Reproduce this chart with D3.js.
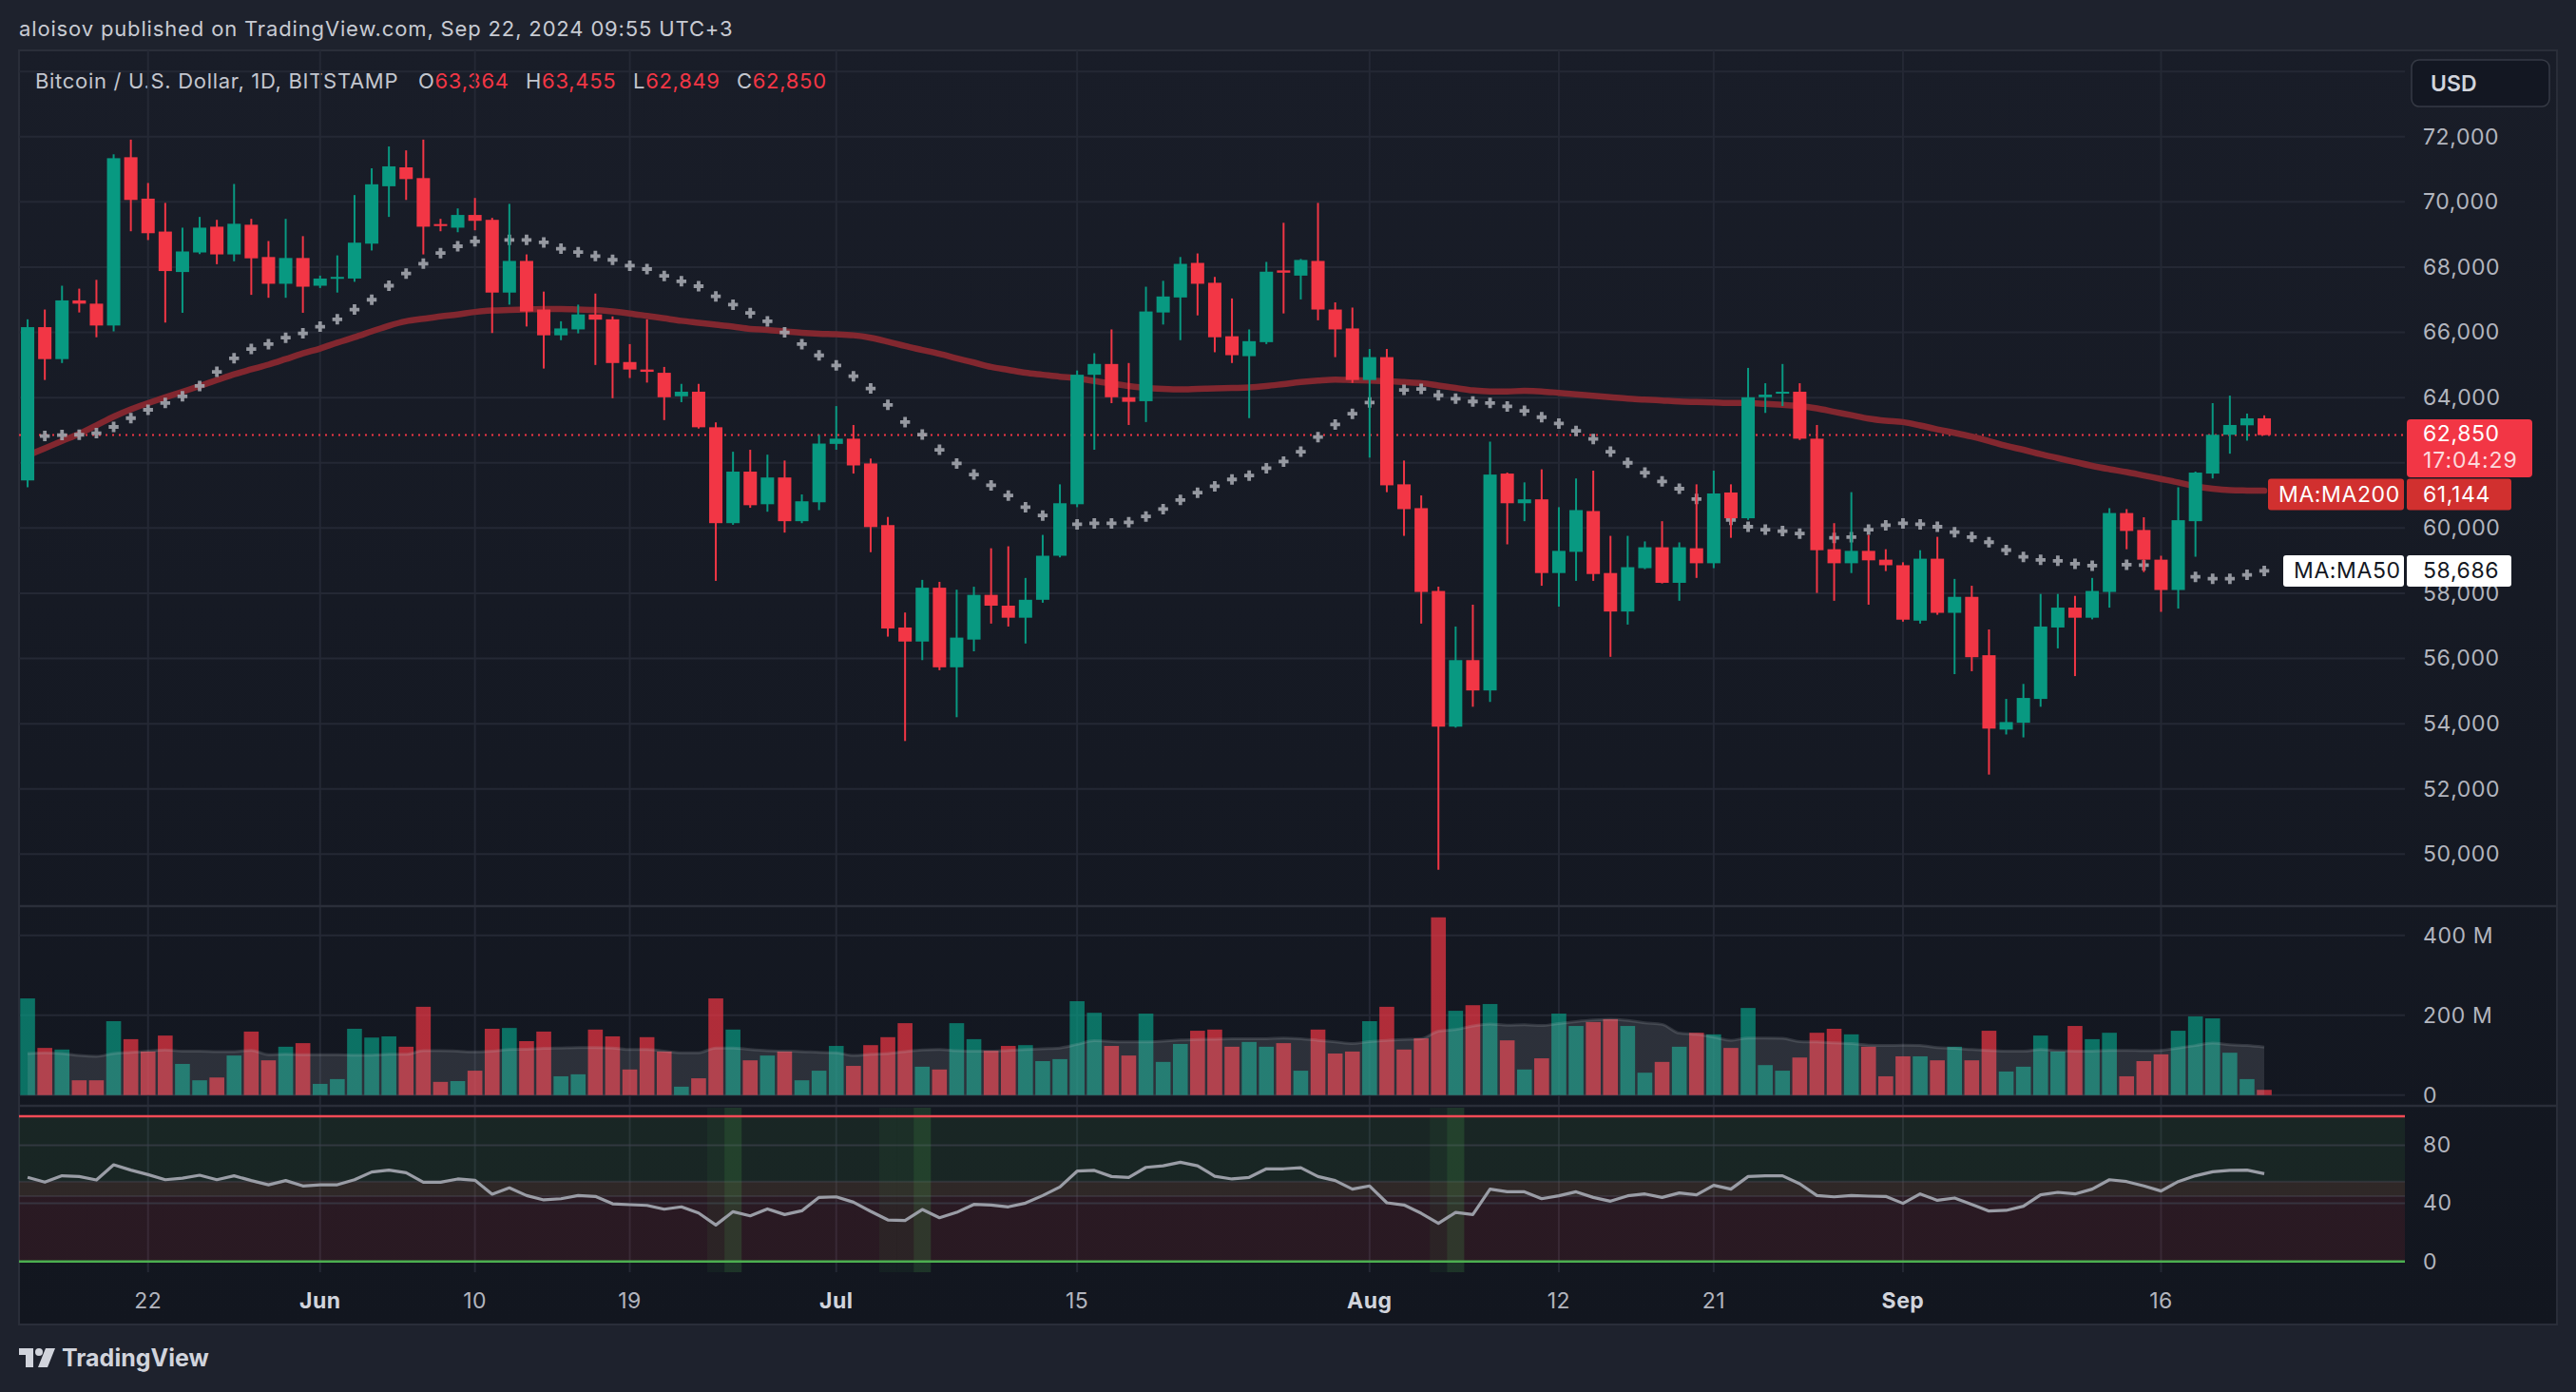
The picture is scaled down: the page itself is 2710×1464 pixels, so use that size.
<!DOCTYPE html>
<html>
<head>
<meta charset="utf-8">
<script src="https://cdn.jsdelivr.net/npm/d3@7"></script>
<style>
  html, body { margin: 0; padding: 0; background: #1e222d; overflow: hidden; }
  svg { display: block; font-family: Inter, "Noto Sans", sans-serif; }
</style>
</head>
<body>
<svg id="chart" width="2710" height="1464"></svg>
<script>
// data: BTC/USD 1D, BITSTAMP, May 15 - Sep 22 2024
const firstDay = "2024-05-15";

const opens = [61460,66160,65180,66980,66880,66210,71370,70100,69090,67850,68450,69240,68390,69300,68310,67490,68280,67430,67660,67650,
  68720,70480,71060,70730,69320,69210,69600,69450,67220,68190,66700,65910,66090,66550,66400,65090,64860,64760,64040,64180,
  63090,60150,61730,60730,61550,60210,60790,62580,62740,61980,60090,56950,56520,58170,55730,56580,57950,57620,57250,57800,
  59150,60730,64700,65030,64010,63890,66610,67070,68130,67520,65880,65270,65700,67900,67740,68190,66700,66120,64540,65240,
  61340,60610,58070,53910,55950,55020,61670,60760,60880,58620,59270,60520,58620,57440,58770,59410,58320,59380,58920,61090,
  60300,64010,64120,64180,62740,59350,58920,59300,59030,58860,57160,59060,57400,57890,56100,53820,54030,54760,56950,57560,
  57250,58040,60460,59940,59030,58100,60210,61670,62860,63150,63364];
const highs = [66400,66700,67430,67340,67610,71460,71910,70580,69970,69210,69540,69450,70550,69480,68800,69480,68950,67740,68360,70210,
  71030,71700,71580,71910,69480,69800,70120,69510,69940,68390,67250,66340,66850,67190,66490,65640,66400,64940,64420,64420,
  63240,62340,62400,62250,62070,61030,62860,63740,63160,62130,60340,57410,58410,58350,58110,58200,59380,59440,58470,59790,
  61340,64830,65360,66090,65060,67400,67580,68310,68420,67700,67040,66090,68160,69360,68250,69970,66920,66760,65490,65490,
  62070,61000,58200,56980,57650,62650,61700,61400,61800,60640,61520,61760,59760,59760,59590,60210,59560,61340,61760,61340,
  64910,64440,65030,64440,63160,60150,61100,59790,59350,58950,59320,59730,58440,58230,56890,54760,55220,57980,57980,57920,
  58470,60610,60580,60330,59150,61250,61730,63830,64060,63510,63455];
const lows = [61250,64540,65060,66610,65850,66030,69100,68830,66300,66600,68400,68090,68180,67150,67060,67060,66600,67360,67220,67550,
  68510,69540,70060,68390,69100,69070,69130,65980,66850,66180,64890,65760,65970,65000,63980,64600,64460,63310,63860,63050,
  58380,60100,60620,60500,59860,60150,60550,62400,61670,59260,56670,53470,55950,55640,54200,56220,57070,56980,56460,57710,
  59100,60640,62400,63830,63160,63250,66240,65760,66520,65390,65060,63370,65640,66580,67010,66370,65240,64450,62160,61100,
  59760,57070,49520,53880,54520,54670,59500,60210,58230,57590,58380,58380,56050,57040,58740,58300,57770,58470,58770,59700,
  60250,63530,63740,62700,58010,57770,58620,57650,58680,57130,57070,57340,55520,55610,52440,53670,53580,54520,56310,55460,
  57200,57560,59350,58650,57430,57530,59120,61520,62280,62680,62849];
const closes = [66160,65180,66980,66880,66210,71340,70060,69040,67880,68480,69210,68390,69330,68270,67490,68280,67400,67650,67700,68750,
  70540,71090,70700,69240,69260,69600,69420,67220,68190,66640,65910,66120,66550,66390,65060,64860,64790,64010,64180,63090,
  60150,61730,60700,61550,60210,60820,62590,62740,61920,60030,56920,56520,58170,55730,56640,57950,57620,57250,57800,59150,
  60760,64700,65030,64010,63870,66640,67100,68100,67490,65850,65300,65730,67860,67830,68220,66700,66090,64540,65240,61310,
  60580,58040,53910,55950,55020,61640,60760,60880,58620,59300,60550,58590,57440,58800,59410,58320,59410,58920,61060,60300,
  64010,64090,64180,62740,59320,58920,59300,59010,58860,57190,59060,57400,57890,56040,53850,54050,54790,56980,57560,57250,
  58070,60460,59910,59030,58100,60240,61700,62860,63160,63364,62850];

const ma200 = [62220,62445,62670,62890,63150,63415,63640,63830,64010,64180,64355,64535,64715,64865,65010,65180,65355,65505,65685,65850,
  66030,66205,66340,66415,66490,66550,66625,66670,66685,66700,66715,66715,66700,66685,66640,66580,66505,66430,66355,66295,
  66235,66175,66105,66075,66030,65985,65955,65940,65910,65835,65715,65580,65460,65340,65205,65075,64940,64850,64760,64700,
  64640,64595,64505,64430,64355,64295,64265,64250,64265,64280,64295,64310,64355,64415,64475,64520,64550,64535,64520,64505,
  64475,64445,64370,64295,64220,64190,64190,64205,64190,64145,64100,64055,64010,63965,63940,63910,63880,63865,63850,63835,
  63835,63805,63775,63745,63670,63565,63460,63355,63290,63250,63145,63025,62920,62805,62670,62520,62400,62265,62145,62025,
  61905,61805,61715,61610,61505,61400,61280,61205,61160,61150,61144];
const ma50 = [62800,62820,62850,62860,62910,63100,63370,63625,63835,64040,64355,64790,65205,65490,65640,65835,65970,66175,66400,66700,
  67000,67430,67805,68105,68430,68640,68790,68820,68835,68835,68760,68565,68460,68340,68225,68045,67940,67730,67565,67415,
  67105,66850,66595,66340,66000,65640,65295,64985,64655,64280,63775,63250,62865,62400,61980,61640,61310,60995,60640,60385,
  60250,60115,60145,60145,60175,60355,60580,60860,61085,61280,61490,61610,61835,62040,62340,62790,63175,63505,63850,64115,
  64235,64265,64070,63965,63880,63835,63730,63595,63400,63205,62980,62730,62340,62000,61700,61430,61205,60890,60580,60250,
  60040,59950,59905,59830,59770,59700,59720,59950,60085,60145,60115,60040,59875,59725,59565,59325,59115,59025,58995,58905,
  58845,58860,58875,58860,58755,58620,58505,58445,58445,58565,58686];

// volume in millions
const volumes = [242,118,114,37,37,185,140,109,149,78,37,44,99,159,87,121,130,28,40,166,
  144,147,121,221,33,35,61,166,168,135,159,47,52,164,147,64,145,109,21,42,
  242,164,87,99,109,37,61,123,73,125,145,180,71,64,180,140,111,123,125,85,
  90,235,206,123,99,204,83,128,161,164,121,133,121,130,61,164,104,109,185,221,
  114,142,445,211,225,228,137,64,92,204,173,183,190,173,56,83,121,156,152,118,
  218,75,61,94,156,166,152,121,47,97,97,87,121,87,161,59,71,149,109,173,
  140,156,47,85,102,161,197,192,106,40,13];
const volumeMa = [104,106,104,99,97,104,107,110,113,110,110,109,109,112,101,102,101,101,101,100,
  100,102,102,111,111,110,108,110,114,115,117,118,119,119,118,114,114,110,106,106,
  118,118,114,111,110,109,107,106,99,102,104,109,113,114,111,110,110,112,114,116,
  118,127,136,134,133,133,135,138,139,140,141,141,141,143,141,137,133,129,134,137,
  139,141,160,164,173,178,175,176,174,179,184,188,190,187,181,177,155,152,145,137,
  143,143,142,134,133,131,129,125,124,125,124,119,117,114,112,110,110,114,111,110,
  110,112,112,111,112,118,124,130,126,124,120];

const rsi = [57.9,54.6,59.0,58.5,56.1,66.6,62.9,59.8,56.3,57.4,59.4,56.3,59.0,55.7,52.8,55.7,52.0,52.8,52.8,56.3,
  61.6,62.9,61.1,54.6,54.6,56.8,55.9,46.3,50.7,45.4,42.4,43.2,45.4,44.8,39.7,39.1,38.6,36.0,37.6,33.4,
  25.1,34.3,31.4,36.2,32.3,34.9,44.1,44.5,40.8,34.5,28.6,28.2,35.8,30.1,33.8,39.3,38.9,37.6,40.2,45.4,
  51.3,62.2,62.7,58.5,57.9,64.8,65.9,68.3,65.9,58.7,56.8,57.9,63.8,63.8,64.6,58.5,55.7,49.8,52.0,40.4,
  38.9,33.2,26.2,33.8,32.3,49.8,48.0,48.0,43.2,45.2,48.0,44.1,41.5,45.2,46.5,44.1,47.2,45.9,52.4,49.8,
  58.5,59.0,59.0,53.5,45.4,44.5,45.4,45.0,44.8,40.0,46.5,42.1,43.7,39.3,34.7,35.2,38.0,45.9,47.6,46.5,
  49.8,56.3,55.0,52.0,48.5,55.0,59.0,61.8,62.7,62.9,60.5];
const rsiDimDays = [40, 50, 51, 82];
const rsiSignalDays = [41, 52, 83];
const rsiUpperZone = [45, 100];
const rsiLowerZone = [0, 55];

const priceTicks = [50000,52000,54000,56000,58000,60000,62000,64000,66000,68000,70000,72000];
const priceGrid = [50000,52000,54000,56000,58000,60000,62000,64000,66000,68000,70000,72000,74000];
const volumeTicks = [0, 200, 400];
const rsiTicks = [0, 40, 80];
const timeTicks = ["2024-05-22","2024-06-01","2024-06-10","2024-06-19","2024-07-01","2024-07-15",
  "2024-08-01","2024-08-12","2024-08-21","2024-09-01","2024-09-16"];

const lastPrice = 62850, countdown = "17:04:29";

// layout
const W = 2710, H = 1464;
const left = 20, plotRight = 2530, frameRight = 2690;
const frameTop = 53, frameBottom = 1393;
const priceTop = 53, priceBottom = 953;
const volTop = 953, volBottom = 1163;
const rsiTop = 1163, rsiBottom = 1338;
const step = 18.1;

const green = "#089981", red = "#f23645";
const textCol = "#b2b5be", gridCol = "#242834";

const parse = d3.timeParse("%Y-%m-%d");
const start = parse(firstDay);
const days = d3.timeDay.range(start, d3.timeDay.offset(start, closes.length));
const bars = days.map((d, i) => ({
  d, i, o: opens[i], h: highs[i], l: lows[i], c: closes[i],
  ma200: ma200[i], ma50: ma50[i], vol: volumes[i], volMa: volumeMa[i], rsi: rsi[i]
}));

// scales
const x = d3.scaleBand().domain(days).range([left, left + step * days.length]).paddingInner(0).paddingOuter(0);
const cx = d => x(d) + x.bandwidth() / 2;
const yP = d3.scaleLinear().domain([50000, 72000]).range([898.35, 143.75]);
const yV = d3.scaleLinear().domain([0, 400]).range([1151.7, 983.7]);
const yR = d3.scaleLinear().domain([0, 100]).range([1326.7, 1174]);

const svg = d3.select("#chart");
const defs = svg.append("defs");
const bg = defs.append("linearGradient").attr("id", "bg").attr("x1", 0).attr("y1", 0).attr("x2", 0).attr("y2", 1);
bg.append("stop").attr("offset", "0%").attr("stop-color", "#191d28");
bg.append("stop").attr("offset", "100%").attr("stop-color", "#12161f");
defs.append("clipPath").attr("id", "clipPrice").append("rect")
  .attr("x", left).attr("y", priceTop).attr("width", plotRight - left).attr("height", priceBottom - priceTop);

// background + frame
svg.append("rect").attr("width", W).attr("height", H).attr("fill", "#1e222d");
svg.append("rect").attr("x", left).attr("y", frameTop).attr("width", frameRight - left).attr("height", frameBottom - frameTop)
  .attr("fill", "url(#bg)").attr("stroke", "#2a2e39").attr("stroke-width", 2);

// header texts
svg.append("text").attr("x", 20).attr("y", 38).attr("font-size", 22).attr("letter-spacing", 0.85).attr("fill", "#c8cbd3")
  .text("aloisov published on TradingView.com, Sep 22, 2024 09:55 UTC+3");

const legend = svg.append("g").attr("font-size", 22).attr("letter-spacing", 0.7);
legend.append("text").attr("x", 37).attr("y", 93).attr("fill", "#c3c6ce").text("Bitcoin / U.S. Dollar, 1D, BITSTAMP");
const last = bars[bars.length - 1];
const fmt = d3.format(",");
[["O", last.o, 440], ["H", last.h, 553], ["L", last.l, 666], ["C", last.c, 775]].forEach(([k, v, px]) => {
  const t = legend.append("text").attr("x", px).attr("y", 93).attr("fill", "#c3c6ce").text(k);
  t.append("tspan").attr("fill", red).text(fmt(v));
});

// grid
const grid = svg.append("g").attr("stroke", gridCol).attr("stroke-width", 2);
grid.selectAll(".hp").data(priceGrid).join("line")
  .attr("x1", left).attr("x2", plotRight).attr("y1", d => yP(d)).attr("y2", d => yP(d));
grid.selectAll(".hv").data(volumeTicks).join("line")
  .attr("x1", left).attr("x2", plotRight).attr("y1", d => yV(d)).attr("y2", d => yV(d));
const tickDates = timeTicks.map(parse);
grid.selectAll(".vt").data(tickDates).join("line")
  .attr("x1", d => cx(d)).attr("x2", d => cx(d)).attr("y1", frameTop).attr("y2", rsiBottom);

// RSI pane background zones
const rsiG = svg.append("g");
rsiG.append("rect").attr("x", left).attr("width", plotRight - left)
  .attr("y", yR(rsiUpperZone[1])).attr("height", yR(rsiUpperZone[0]) - yR(rsiUpperZone[1]))
  .attr("fill", "rgba(76,175,80,0.1)");
rsiG.append("rect").attr("x", left).attr("width", plotRight - left)
  .attr("y", yR(rsiLowerZone[1])).attr("height", yR(rsiLowerZone[0]) - yR(rsiLowerZone[1]))
  .attr("fill", "rgba(242,54,69,0.1)");
rsiG.selectAll(".rg").data([40, 80, 45, 55]).join("line")
  .attr("x1", left).attr("x2", plotRight).attr("y1", d => yR(d)).attr("y2", d => yR(d))
  .attr("stroke", (d) => (d === 40 || d === 80) ? "rgba(60,64,76,0.7)" : "rgba(80,84,96,0.35)").attr("stroke-width", 2);
rsiG.selectAll(".dim").data(rsiDimDays).join("rect")
  .attr("x", i => x(days[i])).attr("width", x.bandwidth())
  .attr("y", rsiTop + 2).attr("height", rsiBottom - rsiTop - 2).attr("fill", "rgba(76,175,80,0.07)");
rsiG.selectAll(".sig").data(rsiSignalDays).join("rect")
  .attr("x", i => x(days[i])).attr("width", x.bandwidth())
  .attr("y", rsiTop + 2).attr("height", rsiBottom - rsiTop - 2).attr("fill", "rgba(76,175,80,0.2)");
rsiG.append("line").attr("x1", left).attr("x2", plotRight).attr("y1", yR(100)).attr("y2", yR(100))
  .attr("stroke", "#f44a56").attr("stroke-width", 2.5);
rsiG.append("line").attr("x1", left).attr("x2", plotRight).attr("y1", yR(0)).attr("y2", yR(0))
  .attr("stroke", "#4caf50").attr("stroke-width", 2.5);
rsiG.append("path").datum(bars)
  .attr("d", d3.line().x(b => cx(b.d)).y(b => yR(b.rsi)))
  .attr("fill", "none").attr("stroke", "#9a9da6").attr("stroke-width", 3.2).attr("stroke-linejoin", "round");

// volume pane
const volG = svg.append("g");
volG.selectAll("rect").data(bars).join("rect")
  .attr("x", b => cx(b.d) - 7.8).attr("width", 15.6)
  .attr("y", b => yV(b.vol)).attr("height", b => yV(0) - yV(b.vol))
  .attr("fill", b => b.c >= b.o ? green : red).attr("fill-opacity", 0.7);
volG.append("path").datum(bars)
  .attr("d", d3.area().x(b => cx(b.d)).y0(yV(0)).y1(b => yV(b.volMa)).curve(d3.curveMonotoneX))
  .attr("fill", "rgba(190,193,202,0.15)");
volG.append("path").datum(bars)
  .attr("d", d3.line().x(b => cx(b.d)).y(b => yV(b.volMa)).curve(d3.curveMonotoneX))
  .attr("fill", "none").attr("stroke", "rgba(190,193,202,0.18)").attr("stroke-width", 3);

// pane separators
svg.selectAll(".sep").data([volTop, volBottom]).join("line")
  .attr("x1", left).attr("x2", frameRight).attr("y1", d => d).attr("y2", d => d)
  .attr("stroke", "#2a2e39").attr("stroke-width", 2.5);

// price pane
const pg = svg.append("g").attr("clip-path", "url(#clipPrice)");
pg.append("line").attr("x1", left).attr("x2", plotRight).attr("y1", yP(lastPrice)).attr("y2", yP(lastPrice))
  .attr("stroke", red).attr("stroke-width", 2).attr("stroke-dasharray", "2,5");
pg.append("path").datum(bars)
  .attr("d", d3.line().x(b => cx(b.d)).y(b => yP(b.ma200)).curve(d3.curveMonotoneX))
  .attr("fill", "none").attr("stroke", "#82272f").attr("stroke-width", 6.5).attr("stroke-linecap", "round");
pg.selectAll(".ma50").data(bars).join("path")
  .attr("transform", b => `translate(${cx(b.d)},${yP(b.ma50)})`)
  .attr("d", "M-5.2,0H5.2M0,-5.5V5.5")
  .attr("stroke", "#a3a6ae").attr("stroke-opacity", 0.9).attr("stroke-width", 3.8);
const candle = pg.selectAll(".candle").data(bars).join("g")
  .attr("fill", b => b.c >= b.o ? green : red).attr("stroke", b => b.c >= b.o ? green : red);
candle.append("line").attr("x1", b => cx(b.d)).attr("x2", b => cx(b.d))
  .attr("y1", b => yP(b.h)).attr("y2", b => yP(b.l)).attr("stroke-width", 2);
candle.append("rect").attr("stroke", "none")
  .attr("x", b => cx(b.d) - 7).attr("width", 14)
  .attr("y", b => yP(Math.max(b.o, b.c)))
  .attr("height", b => Math.max(2, Math.abs(yP(b.o) - yP(b.c))));

// price / MA labels on the scale (placed first so tick labels under them can be skipped)
const priceBoxH = 61;
const pTop = yP(lastPrice) - 16.6;
const pBottom = pTop + priceBoxH;

// right axes
function styleAxis(g) {
  g.select(".domain").remove();
  g.attr("font-family", null).attr("font-size", null);
  g.selectAll("text").attr("fill", textCol).attr("font-size", 23).attr("letter-spacing", 0.6);
}
const shownPriceTicks = priceTicks.filter(v => yP(v) + 12 < pTop || yP(v) - 12 > pBottom);
svg.append("g").attr("transform", `translate(${2546},0)`)
  .call(d3.axisRight(yP).tickValues(shownPriceTicks).tickSize(0).tickFormat(fmt)).call(styleAxis);
svg.append("g").attr("transform", `translate(${2546},0)`)
  .call(d3.axisRight(yV).tickValues(volumeTicks).tickSize(0).tickFormat(d => d === 0 ? "0" : d + " M")).call(styleAxis);
svg.append("g").attr("transform", `translate(${2546},0)`)
  .call(d3.axisRight(yR).tickValues(rsiTicks).tickSize(0)).call(styleAxis);

// time axis
const timeAxis = svg.append("g").attr("transform", `translate(0,${rsiBottom + 19})`)
  .call(d3.axisBottom(x).tickValues(tickDates).tickSize(0)
    .tickFormat(d => d.getDate() === 1 ? d3.timeFormat("%b")(d) : d3.timeFormat("%-d")(d)));
timeAxis.select(".domain").remove();
timeAxis.attr("font-family", null).attr("font-size", null);
timeAxis.selectAll("text").attr("font-size", 23).attr("letter-spacing", 0.5)
  .attr("font-weight", d => d.getDate() === 1 ? 700 : 400)
  .attr("fill", d => d.getDate() === 1 ? "#d1d4dc" : textCol);

// USD box
svg.append("rect").attr("x", 2537).attr("y", 63).attr("width", 145).attr("height", 49).attr("rx", 8)
  .attr("fill", "#131722").attr("stroke", "#363a45").attr("stroke-width", 1.5);
svg.append("text").attr("x", 2557).attr("y", 88).attr("dy", "0.35em").attr("font-size", 23)
  .attr("font-weight", 600).attr("fill", "#d1d4dc").text("USD");

svg.append("rect").attr("x", 2532).attr("y", pTop).attr("width", 132).attr("height", priceBoxH).attr("rx", 4).attr("fill", red);
svg.append("text").attr("x", 2549).attr("y", pTop + 15).attr("dy", "0.35em").attr("font-size", 23).attr("letter-spacing", 0.6)
  .attr("fill", "#ffffff").text(fmt(lastPrice));
svg.append("text").attr("x", 2549).attr("y", pTop + 43).attr("dy", "0.35em").attr("font-size", 23).attr("letter-spacing", 0.9)
  .attr("fill", "rgba(255,255,255,0.82)").text(countdown);

function maLabel(name, value, fill, textFill, minTop, nameX) {
  const h = 33;
  const top = Math.max(yP(value) - h / 2, minTop);
  svg.append("rect").attr("x", nameX).attr("y", top).attr("width", 2529 - nameX).attr("height", h).attr("rx", 3).attr("fill", fill);
  svg.append("rect").attr("x", 2532).attr("y", top).attr("width", 110).attr("height", h).attr("rx", 3).attr("fill", fill);
  svg.append("text").attr("x", nameX + 11).attr("y", top + h / 2).attr("dy", "0.35em").attr("font-size", 23)
    .attr("letter-spacing", 0.6).attr("fill", textFill).text(name);
  svg.append("text").attr("x", 2549).attr("y", top + h / 2).attr("dy", "0.35em").attr("font-size", 23)
    .attr("letter-spacing", 0.6).attr("fill", textFill).text(fmt(value));
}
maLabel("MA:MA200", last.ma200, "#d1302f", "#ffffff", pBottom + 1.5, 2386);
maLabel("MA:MA50", last.ma50, "#ffffff", "#131722", 0, 2402);

// TradingView logo
const logo = svg.append("g").attr("fill", "#d1d4dc");
logo.append("path").attr("d", "M20,1418H35V1438H27V1425H20Z");
logo.append("circle").attr("cx", 41).attr("cy", 1422).attr("r", 4);
logo.append("path").attr("d", "M48,1418H58L50,1438H40Z");
logo.append("text").attr("x", 65).attr("y", 1437).attr("font-size", 25).attr("font-weight", 700)
  .attr("fill", "#d1d4dc").text("TradingView");
</script>
</body>
</html>
